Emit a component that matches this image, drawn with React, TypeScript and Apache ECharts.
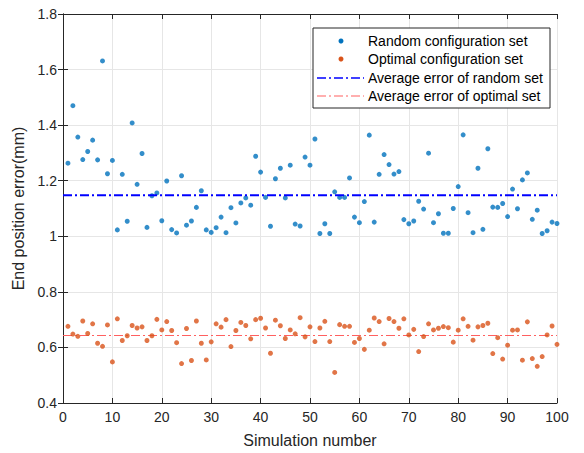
import React, { useEffect, useRef } from "react";
import * as echarts from "echarts";

const simulationNumbers: number[] = [
  1, 2, 3, 4, 5, 6, 7, 8, 9, 10, 11, 12, 13, 14, 15, 16, 17, 18, 19, 20,
  21, 22, 23, 24, 25, 26, 27, 28, 29, 30, 31, 32, 33, 34, 35, 36, 37, 38, 39, 40,
  41, 42, 43, 44, 45, 46, 47, 48, 49, 50, 51, 52, 53, 54, 55, 56, 57, 58, 59, 60,
  61, 62, 63, 64, 65, 66, 67, 68, 69, 70, 71, 72, 73, 74, 75, 76, 77, 78, 79, 80,
  81, 82, 83, 84, 85, 86, 87, 88, 89, 90, 91, 92, 93, 94, 95, 96, 97, 98, 99, 100,
];

const randomErrors: number[] = [
  1.263, 1.47, 1.357, 1.276, 1.305, 1.346, 1.275, 1.631, 1.225, 1.273,
  1.023, 1.223, 1.054, 1.408, 1.187, 1.298, 1.032, 1.146, 1.156, 1.056,
  1.199, 1.024, 1.012, 1.218, 1.04, 1.055, 1.104, 1.164, 1.023, 1.014,
  1.031, 1.069, 1.013, 1.103, 1.048, 1.12, 1.138, 1.112, 1.288, 1.231,
  1.14, 1.036, 1.207, 1.245, 1.138, 1.256, 1.044, 1.037, 1.285, 1.256,
  1.35, 1.01, 1.045, 1.01, 1.16, 1.14, 1.14, 1.21, 1.069, 1.049,
  1.125, 1.364, 1.051, 1.223, 1.294, 1.258, 1.224, 1.233, 1.06, 1.045,
  1.055, 1.126, 1.098, 1.299, 1.049, 1.081, 1.011, 1.011, 1.1, 1.179,
  1.365, 1.085, 1.013, 1.245, 1.025, 1.315, 1.105, 1.104, 1.118, 1.071,
  1.17, 1.099, 1.203, 1.228, 1.061, 1.094, 1.01, 1.02, 1.051, 1.046,
];

const optimalErrors: number[] = [
  0.676, 0.648, 0.64, 0.695, 0.65, 0.685, 0.615, 0.604, 0.681, 0.548,
  0.703, 0.625, 0.642, 0.679, 0.67, 0.674, 0.625, 0.642, 0.701, 0.663,
  0.693, 0.661, 0.617, 0.542, 0.668, 0.553, 0.695, 0.615, 0.555, 0.62,
  0.685, 0.673, 0.7, 0.603, 0.661, 0.69, 0.679, 0.631, 0.7, 0.705,
  0.67, 0.579, 0.698, 0.678, 0.632, 0.663, 0.649, 0.707, 0.638, 0.674,
  0.621, 0.67, 0.694, 0.621, 0.51, 0.682, 0.676, 0.676, 0.618, 0.632,
  0.593, 0.662, 0.706, 0.693, 0.613, 0.704, 0.693, 0.669, 0.703, 0.645,
  0.665, 0.585, 0.639, 0.685, 0.663, 0.669, 0.675, 0.671, 0.619, 0.662,
  0.703, 0.676, 0.626, 0.674, 0.679, 0.687, 0.578, 0.635, 0.558, 0.608,
  0.662, 0.663, 0.554, 0.692, 0.56, 0.532, 0.567, 0.645, 0.677, 0.611,
];

const randomAverage = 1.148;
const optimalAverage = 0.643;
const xRange = [0, 100];

const legendLabels = [
  "Random configuration set",
  "Optimal configuration set",
  "Average error of random set",
  "Average error of optimal set",
];

const BLUE = "#0072BD";
const ORANGE = "#D95319";
const AVG_BLUE = "#0000FF";
const AVG_RED = "#FF6060";
const INK = "#262626";
const FONT = "Arial, 'Liberation Sans', sans-serif";

export default function App() {
  const ref = useRef<HTMLDivElement>(null);

  useEffect(() => {
    document.body.style.margin = "0";
    if (!ref.current) return;
    const chart = echarts.init(ref.current, undefined, { renderer: "svg" });

    const axisCommon = {
      type: "value" as const,
      axisLine: { show: true, lineStyle: { color: INK, width: 1 } },
      axisTick: { show: true, inside: true, length: 5, lineStyle: { color: INK } },
    };

    const legendX = 313;
    const legendY = 28;
    const rowYs = [41, 59, 78, 96];

    chart.setOption({
      animation: false,
      backgroundColor: "#ffffff",
      textStyle: { fontFamily: FONT },
      grid: { left: 63, right: 27, top: 14, bottom: 47, containLabel: false },
      xAxis: [
        {
          ...axisCommon,
          min: 0,
          max: 100,
          interval: 10,
          name: "Simulation number",
          nameLocation: "middle",
          nameGap: 29,
          nameTextStyle: { color: INK, fontSize: 16, fontFamily: FONT },
          axisLabel: { color: INK, fontSize: 14, margin: 7, fontFamily: FONT },
          splitLine: { show: true, lineStyle: { color: "#e6e6e6", width: 1 } },
        },
        {
          ...axisCommon,
          position: "top",
          min: 0,
          max: 100,
          interval: 10,
          axisLabel: { show: false },
          splitLine: { show: false },
        },
      ],
      yAxis: [
        {
          ...axisCommon,
          min: 0.4,
          max: 1.8,
          interval: 0.2,
          name: "End position error(mm)",
          nameLocation: "middle",
          nameGap: 33,
          nameTextStyle: { color: INK, fontSize: 16, fontFamily: FONT },
          axisLabel: {
            color: INK,
            fontSize: 14,
            margin: 6,
            fontFamily: FONT,
            formatter: (v: number) => String(Math.round(v * 10) / 10),
          },
          splitLine: { show: true, lineStyle: { color: "#e6e6e6", width: 1 } },
        },
        {
          ...axisCommon,
          position: "right",
          min: 0.4,
          max: 1.8,
          interval: 0.2,
          axisLabel: { show: false },
          splitLine: { show: false },
        },
      ],
      series: [
        {
          name: legendLabels[0],
          type: "scatter",
          symbol: "circle",
          symbolSize: 5,
          itemStyle: { color: BLUE },
          data: simulationNumbers.map((n, i) => [n, randomErrors[i]]),
          z: 3,
        },
        {
          name: legendLabels[1],
          type: "scatter",
          symbol: "circle",
          symbolSize: 5,
          itemStyle: { color: ORANGE },
          data: simulationNumbers.map((n, i) => [n, optimalErrors[i]]),
          z: 3,
        },
        {
          name: legendLabels[2],
          type: "line",
          symbol: "none",
          lineStyle: { color: AVG_BLUE, width: 2, type: [9, 3, 2, 3] },
          data: xRange.map((x) => [x, randomAverage]),
          z: 4,
        },
        {
          name: legendLabels[3],
          type: "line",
          symbol: "none",
          lineStyle: { color: AVG_RED, width: 1.2, type: [9, 3, 2, 3] },
          data: xRange.map((x) => [x, optimalAverage]),
          z: 2,
        },
      ],
      graphic: [
        {
          type: "rect",
          shape: { x: legendX, y: legendY, width: 237, height: 80 },
          style: { fill: "#ffffff", stroke: INK, lineWidth: 1 },
          z: 10,
        },
        {
          type: "circle",
          shape: { cx: 341, cy: rowYs[0], r: 2.5 },
          style: { fill: BLUE },
          z: 11,
        },
        {
          type: "circle",
          shape: { cx: 341, cy: rowYs[1], r: 2.5 },
          style: { fill: ORANGE },
          z: 11,
        },
        {
          type: "line",
          shape: { x1: 317, y1: rowYs[2], x2: 364, y2: rowYs[2] },
          style: { stroke: AVG_BLUE, lineWidth: 1.6, lineDash: [9, 3, 2, 3] },
          z: 11,
        },
        {
          type: "line",
          shape: { x1: 317, y1: rowYs[3], x2: 364, y2: rowYs[3] },
          style: { stroke: AVG_RED, lineWidth: 1.2, lineDash: [9, 3, 2, 3] },
          z: 11,
        },
        ...legendLabels.map((label, i) => ({
          type: "text",
          x: 368,
          y: rowYs[i],
          style: {
            text: label,
            fill: "#000000",
            fontSize: 14,
            fontFamily: FONT,
            verticalAlign: "middle",
            align: "left",
          },
          z: 11,
        })),
      ],
    });

    return () => chart.dispose();
  }, []);

  return <div ref={ref} style={{ width: 584, height: 453 }} />;
}
